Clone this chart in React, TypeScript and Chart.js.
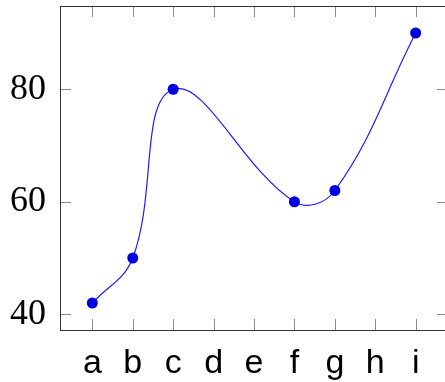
import React, { useEffect, useRef } from "react";
import { Chart, registerables } from "chart.js";

Chart.register(...registerables);

const categories = ["a", "b", "c", "d", "e", "f", "g", "h", "i"];
const values: (number | null)[] = [42, 50, 80, null, null, 60, 62, null, 90];
const yTicks = [40, 60, 80];

const boxPlugin = {
  id: "boxPlugin",
  beforeDatasetsDraw(chart: any) {
    const { ctx, chartArea } = chart;
    const { left, right, top, bottom } = chartArea;
    const xs = chart.scales.x;
    const ys = chart.scales.y;
    ctx.save();
    ctx.lineWidth = 1;
    ctx.strokeStyle = "#8a8a8a";
    const tl = 11;
    ctx.beginPath();
    categories.forEach((_, i) => {
      const px = Math.round(xs.getPixelForValue(i)) + 0.5;
      ctx.moveTo(px, bottom);
      ctx.lineTo(px, bottom - tl);
      ctx.moveTo(px, top);
      ctx.lineTo(px, top + tl);
    });
    yTicks.forEach((v) => {
      const py = Math.round(ys.getPixelForValue(v)) + 0.5;
      ctx.moveTo(left, py);
      ctx.lineTo(left + tl, py);
      ctx.moveTo(right, py);
      ctx.lineTo(right - tl, py);
    });
    ctx.stroke();
    ctx.strokeStyle = "#333";
    ctx.strokeRect(Math.round(left) + 0.5, Math.round(top) + 0.5, Math.round(right - left), Math.round(bottom - top));
    ctx.restore();
  },
};

export default function App() {
  const ref = useRef<HTMLCanvasElement | null>(null);
  useEffect(() => {
    if (!ref.current) return;
    const chart = new Chart(ref.current, {
      type: "line",
      data: {
        datasets: [
          {
            data: values.map((v, i) => ({ x: i, y: v })) as any,
            borderColor: "#1a1aff",
            borderWidth: 1.2,
            backgroundColor: "#0000e0",
            pointBackgroundColor: "#0000e0",
            pointBorderColor: "#0000e0",
            pointRadius: 5.5,
            pointBorderWidth: 0,
            tension: 0.4,
            spanGaps: true,
            fill: false,
          },
        ],
      },
      options: {
        animation: false,
        responsive: false,
        layout: { padding: { top: 6, right: 12, left: 0, bottom: 0 } },
        plugins: { legend: { display: false }, tooltip: { enabled: false } },
        scales: {
          x: {
            type: "linear",
            min: -0.8,
            max: 8.8,
            grid: { display: false, drawTicks: false },
            border: { display: false },
            afterBuildTicks: (s: any) => {
              s.ticks = categories.map((_, i) => ({ value: i }));
            },
            afterFit: (s: any) => {
              s.height = 52;
              s.paddingLeft = 0;
              s.paddingRight = 0;
            },
            ticks: {
              autoSkip: false,
              maxRotation: 0,
              padding: 13,
              color: "#000",
              font: { family: "Liberation Sans", size: 34 },
              callback: (v: any) => categories[v as number] ?? "",
            },
          },
          y: {
            type: "linear",
            min: 37.2,
            max: 94.8,
            grid: { display: false, drawTicks: false },
            border: { display: false },
            afterBuildTicks: (s: any) => {
              s.ticks = yTicks.map((v) => ({ value: v }));
            },
            afterFit: (s: any) => {
              s.width = 60;
              s.paddingTop = 0;
              s.paddingBottom = 0;
            },
            ticks: {
              padding: 14,
              color: "#000",
              font: { family: "Liberation Serif", size: 36 },
              callback: (v: any) => String(v),
            },
          },
        },
      },
      plugins: [boxPlugin],
    });
    return () => chart.destroy();
  }, []);
  return (
    <div style={{ position: "fixed", left: 0, top: 0, width: 445, height: 382, overflow: "hidden", background: "#fff" }}>
      <canvas ref={ref} width={460} height={382} style={{ display: "block" }} />
    </div>
  );
}
